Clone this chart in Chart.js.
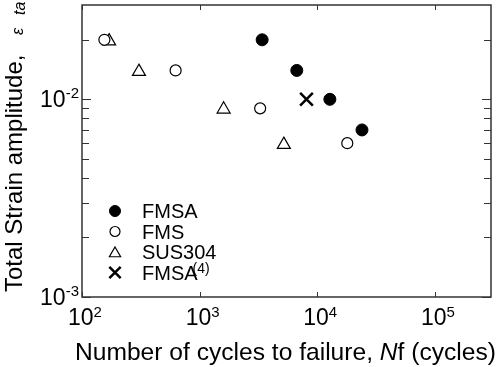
<!DOCTYPE html>
<html>
<head>
<meta charset="utf-8">
<script src="https://cdn.jsdelivr.net/npm/chart.js@4/dist/chart.umd.min.js"></script>
<style>
  body { margin: 0; background: #fff; }
  #wrap { width: 500px; height: 367px; }
</style>
</head>
<body>
<div id="wrap"><canvas id="fatigue-chart" width="500" height="367"></canvas></div>
<script>
// Series (cycles to failure, total strain amplitude)
const fmsaX = [3400, 6700, 12800, 24000];
const fmsaY = [0.020, 0.014, 0.010, 0.0070];
const fmsX = [155, 625, 3270, 18000];
const fmsY = [0.020, 0.014, 0.0090, 0.0060];
const susX = [170, 305, 1600, 5200];
const susY = [0.0197, 0.0138, 0.0089, 0.0059];
const refX = [8100];
const refY = [0.010];

// Axis ranges and ticks
const xMin = 100, xMax = 300000;
const yMin = 0.001, yMax = 0.03;
const xTickExps = [2, 3, 4, 5];
const yTickExps = [-3, -2];
const yMinorTicks = [0.002, 0.003, 0.004, 0.005, 0.006, 0.007, 0.008, 0.009, 0.02];

const legendLabels = ['FMSA', 'FMS', 'SUS304', 'FMSA'];
const legendSup = ['', '', '', '(4)'];

const FONT = '"Liberation Sans", Arial, Helvetica, sans-serif';

function toPoints(xs, ys) {
  return xs.map((x, i) => ({ x: x, y: ys[i] }));
}

// Frame, inward ticks, superscript tick labels, titles and legend
const decorPlugin = {
  id: 'decor',
  afterDraw(chart) {
    const ctx = chart.ctx;
    const a = chart.chartArea;
    const xs = chart.scales.x, ys = chart.scales.y;
    ctx.save();

    // frame
    ctx.strokeStyle = '#333';
    ctx.lineWidth = 1.5;
    ctx.strokeRect(a.left, a.top, a.right - a.left, a.bottom - a.top);

    // x ticks (bottom and top)
    ctx.lineWidth = 1;
    xTickExps.forEach(e => {
      const px = Math.round(xs.getPixelForValue(Math.pow(10, e))) + 0.5;
      ctx.beginPath();
      ctx.moveTo(px, a.bottom); ctx.lineTo(px, a.bottom - 5);
      ctx.moveTo(px, a.top); ctx.lineTo(px, a.top + 5);
      ctx.stroke();
    });
    // y ticks (left and right)
    const yTick = (v, len) => {
      const py = Math.round(ys.getPixelForValue(v)) + 0.5;
      ctx.beginPath();
      ctx.moveTo(a.left, py); ctx.lineTo(a.left + len, py);
      ctx.moveTo(a.right, py); ctx.lineTo(a.right - len, py);
      ctx.stroke();
    };
    yTickExps.forEach(e => yTick(Math.pow(10, e), 9));
    yMinorTicks.forEach(v => yTick(v, 7));

    ctx.fillStyle = '#000';
    ctx.textBaseline = 'alphabetic';
    // x tick labels
    xTickExps.forEach(e => {
      const px = xs.getPixelForValue(Math.pow(10, e));
      ctx.font = '23px ' + FONT;
      const w1 = ctx.measureText('10').width;
      ctx.font = '15px ' + FONT;
      const w2 = ctx.measureText(String(e)).width;
      const x0 = px + 3 - (w1 + w2) / 2;
      ctx.font = '23px ' + FONT;
      ctx.textAlign = 'left';
      ctx.fillText('10', x0, 325);
      ctx.font = '15px ' + FONT;
      ctx.fillText(String(e), x0 + w1, 317);
    });
    // y tick labels
    yTickExps.forEach(e => {
      const py = ys.getPixelForValue(Math.pow(10, e));
      ctx.font = '15px ' + FONT;
      const w2 = ctx.measureText('-' + Math.abs(e)).width;
      ctx.textAlign = 'right';
      ctx.fillText('-' + Math.abs(e), 79, py - 1);
      ctx.font = '23px ' + FONT;
      ctx.fillText('10', 79 - w2, py + 8);
    });

    // x title with italic N
    ctx.textAlign = 'left';
    let tx = 75;
    const parts = [['Number of cycles to failure, ', ''], ['N', 'italic '], ['f (cycles)', '']];
    parts.forEach(p => {
      ctx.font = p[1] + '24.6px ' + FONT;
      ctx.fillText(p[0], tx, 360);
      tx += ctx.measureText(p[0]).width;
    });

    // y title, rotated
    ctx.save();
    ctx.translate(22, 292);
    ctx.rotate(-Math.PI / 2);
    ctx.font = '24px ' + FONT;
    ctx.fillText('Total Strain amplitude,', 0, 0);
    ctx.font = 'italic 16px ' + FONT;
    ctx.fillText('\u03b5', 257, 1);
    ctx.fillText('ta', 277, 3);
    ctx.restore();

    // legend
    const rowY = [211, 231.5, 252, 272.5];
    chart.data.datasets.forEach((ds, i) => {
      const y = rowY[i];
      ctx.fillStyle = ds.backgroundColor;
      ctx.strokeStyle = ds.borderColor;
      ctx.lineWidth = ds.borderWidth;
      Chart.helpers.drawPoint(ctx, {
        pointStyle: ds.pointStyle,
        radius: ds.legendRadius,
        rotation: 0,
        borderWidth: ds.borderWidth
      }, 115, ds.pointStyle === 'triangle' ? y + 1.5 : y);
      ctx.fillStyle = '#000';
      ctx.font = '20px ' + FONT;
      ctx.textAlign = 'left';
      ctx.fillText(legendLabels[i], 142, y + 7);
      if (legendSup[i]) {
        const w = ctx.measureText(legendLabels[i]).width;
        ctx.font = '14px ' + FONT;
        ctx.fillText(legendSup[i], 142 + w - 5, y);
      }
    });

    ctx.restore();
  }
};

const ctx = document.getElementById('fatigue-chart').getContext('2d');
const chart = new Chart(ctx, {
  type: 'scatter',
  data: {
    datasets: [
      {
        label: 'FMSA',
        data: toPoints(fmsaX, fmsaY),
        pointStyle: 'circle',
        pointRadius: 6,
        legendRadius: 5.5,
        backgroundColor: '#000',
        borderColor: '#000',
        borderWidth: 1
      },
      {
        label: 'FMS',
        data: toPoints(fmsX, fmsY),
        pointStyle: 'circle',
        pointRadius: 5.5,
        legendRadius: 5,
        backgroundColor: '#fff',
        borderColor: '#000',
        borderWidth: 1.2
      },
      {
        label: 'SUS304',
        data: toPoints(susX, susY),
        pointStyle: 'triangle',
        pointRadius: 7.5,
        legendRadius: 6.5,
        backgroundColor: '#fff',
        borderColor: '#000',
        borderWidth: 1.2
      },
      {
        label: 'FMSA(4)',
        data: toPoints(refX, refY),
        pointStyle: 'crossRot',
        pointRadius: 9,
        legendRadius: 8,
        backgroundColor: '#000',
        borderColor: '#000',
        borderWidth: 2.5
      }
    ]
  },
  options: {
    responsive: false,
    animation: false,
    layout: { autoPadding: false, padding: { left: 82, top: 5, right: 9, bottom: 70 } },
    plugins: {
      legend: { display: false },
      tooltip: { enabled: false }
    },
    scales: {
      x: { type: 'logarithmic', min: xMin, max: xMax, display: false },
      y: { type: 'logarithmic', min: yMin, max: yMax, display: false }
    }
  },
  plugins: [decorPlugin]
});
</script>
</body>
</html>
